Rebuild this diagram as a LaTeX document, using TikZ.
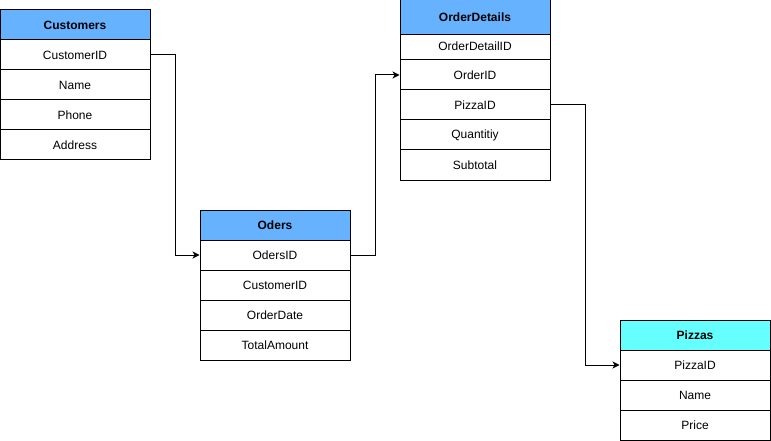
\documentclass[tikz,border=0pt]{standalone}
\usepackage{fontspec}
\setmainfont{Liberation Sans}
\usetikzlibrary{arrows.meta}
\definecolor{hdrblue}{HTML}{66B2FF}
\definecolor{hdrcyan}{HTML}{66FFFF}
\tikzset{
  cell/.style={draw=black, line width=1pt, fill=white, inner sep=0pt, minimum width=150pt, minimum height=30pt, font=\fontsize{12pt}{14pt}\selectfont, text=black},
  hdr/.style={cell, fill=hdrblue, font=\fontsize{12pt}{14pt}\selectfont\bfseries},
  hdrc/.style={hdr, fill=hdrcyan},
  conn/.style={draw=black, line width=1pt, -{Stealth[length=7pt,width=7pt,inset=2pt]}}
}
\begin{document}
\begin{tikzpicture}[x=1pt,y=-1pt]
\useasboundingbox (0,0) rectangle (771,441);
% Customers
\node[hdr] (cust) at (75,25) {Customers};
\node[cell] (c1) at (75,55) {CustomerID};
\node[cell] (c2) at (75,85) {Name};
\node[cell] (c3) at (75,115) {Phone};
\node[cell] (c4) at (75,145) {Address};
% Oders
\node[hdr] (ord) at (275,225) {Oders};
\node[cell] (o1) at (275,255) {OdersID};
\node[cell] (o2) at (275,285) {CustomerID};
\node[cell] (o3) at (275,315) {OrderDate};
\node[cell] (o4) at (275,345) {TotalAmount};
% OrderDetails
\node[hdr, minimum height=35pt] (det) at (475,17.5) {OrderDetails};
\node[cell, minimum height=25pt] (d1) at (475,47.5) {\raisebox{3pt}{OrderDetailID}};
\node[cell] (d2) at (475,75) {OrderID};
\node[cell] (d3) at (475,105) {PizzaID};
\node[cell] (d4) at (475,135) {Quantitiy};
\node[cell] (d5) at (475,165) {Subtotal};
% Pizzas
\node[hdrc] (piz) at (695,335) {Pizzas};
\node[cell] (p1) at (695,365) {PizzaID};
\node[cell] (p2) at (695,395) {Name};
\node[cell] (p3) at (695,425) {Price};
% connectors
\draw[conn] (c1.east) -- ++(25,0) |- (o1.west);
\draw[conn] (o1.east) -- ++(25,0) |- (d2.west);
\draw[conn] (d3.east) -- ++(35,0) |- (p1.west);
\end{tikzpicture}
\end{document}
